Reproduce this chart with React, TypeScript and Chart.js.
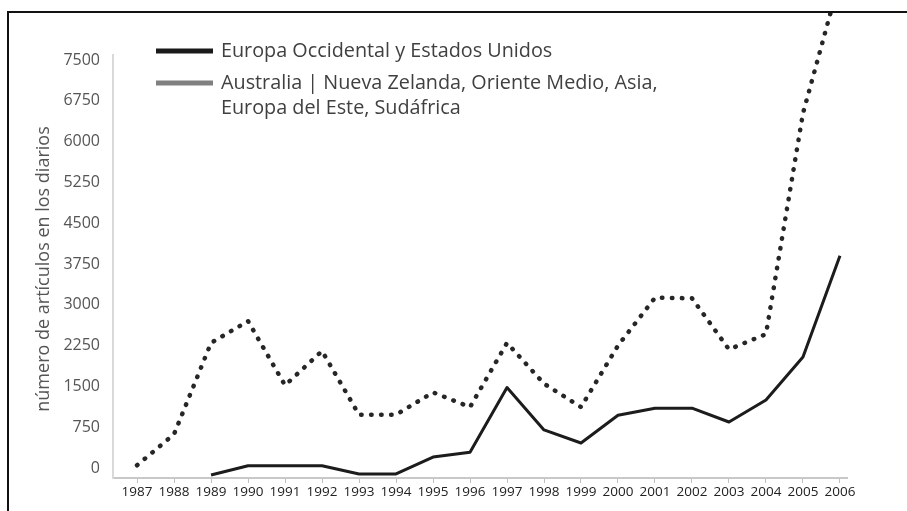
import React, { useEffect, useRef } from "react";
import { Chart, registerables } from "chart.js";

Chart.register(...registerables);

const years = [1987, 1988, 1989, 1990, 1991, 1992, 1993, 1994, 1995, 1996, 1997, 1998, 1999, 2000, 2001, 2002, 2003, 2004, 2005, 2006];
const europaOccidental = [null, null, -130, 40, 40, 40, -110, -110, 200, 290, 1480, 700, 460, 970, 1100, 1100, 845, 1250, 2040, 3900];
const otrasRegiones = [50, 620, 2300, 2700, 1520, 2150, 980, 980, 1390, 1120, 2300, 1550, 1120, 2250, 3130, 3120, 2180, 2460, 6520, 9000];
const yTicks = [0, 750, 1500, 2250, 3000, 3750, 4500, 5250, 6000, 6750, 7500];
const legendLabels = [
  ["Europa Occidental y Estados Unidos"],
  ["Australia | Nueva Zelanda, Oriente Medio, Asia,", "Europa del Este, Sudáfrica"],
];
const yTitle = "número de artículos en los diarios";

const FONT = "'Open Sans', sans-serif";

const decorPlugin = {
  id: "decor",
  afterDraw(chart: any) {
    const ctx = chart.ctx;
    ctx.save();
    // frame
    ctx.strokeStyle = "#111";
    ctx.lineWidth = 2;
    ctx.strokeRect(8, 12, 1200, 1200);
    // legend
    const samples = ["#1a1a1a", "#808080"];
    const rows = [51, 83];
    ctx.font = `19.8px ${FONT}`;
    ctx.textBaseline = "middle";
    ctx.textAlign = "left";
    legendLabels.forEach((lines, i) => {
      ctx.strokeStyle = samples[i];
      ctx.lineWidth = 5;
      ctx.lineCap = "butt";
      ctx.beginPath();
      ctx.moveTo(156, rows[i]);
      ctx.lineTo(213, rows[i]);
      ctx.stroke();
      ctx.fillStyle = "#404040";
      lines.forEach((t, j) => ctx.fillText(t, 221, rows[i] + j * 25));
    });
    // y title
    ctx.translate(44, 269);
    ctx.rotate(-Math.PI / 2);
    ctx.textAlign = "center";
    ctx.fillStyle = "#555";
    ctx.font = `18px ${FONT}`;
    ctx.fillText(yTitle, 0, 0);
    ctx.restore();
  },
};

export default function App() {
  const ref = useRef<HTMLCanvasElement>(null);
  useEffect(() => {
    if (!ref.current) return;
    const chart = new Chart(ref.current, {
      type: "line",
      data: {
        datasets: [
          {
            label: legendLabels[0].join(" "),
            data: years.map((y, i) => ({ x: y, y: europaOccidental[i] })),
            borderColor: "#1c1c1c",
            borderWidth: 3,
            pointRadius: 0,
            tension: 0,
            borderJoinStyle: "round",
          },
          {
            label: legendLabels[1].join(" "),
            data: years.map((y, i) => ({ x: y, y: otrasRegiones[i] })),
            borderColor: "#262626",
            borderWidth: 4.5,
            borderDash: [0.5, 9.5],
            borderCapStyle: "round",
            borderJoinStyle: "round",
            pointRadius: 0,
            tension: 0,
            clip: { left: false, top: 42, right: false, bottom: false } as any,
          },
        ],
      },
      options: {
        responsive: false,
        animation: false,
        layout: { padding: { top: 55, right: 60, left: 0, bottom: 0 } },
        plugins: { legend: { display: false }, tooltip: { enabled: false } },
        scales: {
          x: {
            type: "linear",
            min: 1986.35,
            max: 2006.19,
            afterBuildTicks: (s: any) => {
              s.ticks = years.map((v) => ({ value: v }));
            },
            afterFit: (s: any) => {
              s.height = 33;
            },
            grid: { display: true, drawOnChartArea: false, drawTicks: true, tickLength: 5, color: "#bfbfbf", lineWidth: 1 },
            border: { display: true, color: "#c8c8c8", width: 2 },
            ticks: {
              autoSkip: false,
              maxRotation: 0,
              padding: 1,
              color: "#222",
              font: { family: FONT, size: 13.5 },
              callback: (v: any) => String(v),
            },
          },
          y: {
            min: -184,
            max: 7592,
            afterBuildTicks: (s: any) => {
              s.ticks = yTicks.map((v) => ({ value: v }));
            },
            afterFit: (s: any) => {
              s.width = 113;
            },
            grid: { display: false, drawTicks: false },
            border: { display: true, color: "#d9d9d9", width: 2 },
            ticks: {
              padding: 13,
              color: "#555",
              font: { family: FONT, size: 16 },
              callback: (v: any) => String(v),
            },
          },
        },
      },
      plugins: [decorPlugin],
    });
    return () => chart.destroy();
  }, []);
  return (
    <div style={{ position: "fixed", left: 0, top: 0, width: 907, height: 511, background: "#fff" }}>
      <canvas ref={ref} width={907} height={511} style={{ display: "block" }} />
    </div>
  );
}
